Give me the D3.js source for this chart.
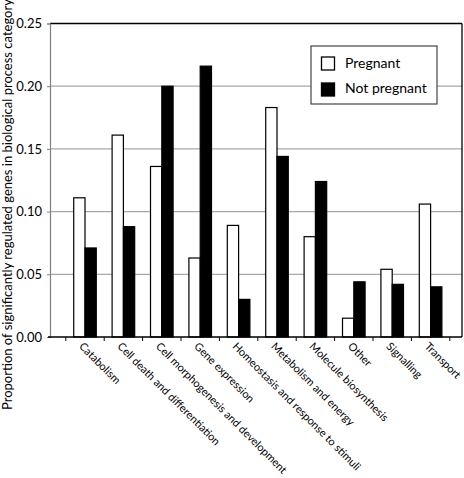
<!DOCTYPE html>
<html><head><meta charset="utf-8">
<script src="https://cdn.jsdelivr.net/npm/d3@7"></script>
<style>
html,body{margin:0;padding:0;background:#fff;}
svg{display:block;}
text{font-family:Lato,"Open Sans",sans-serif;fill:#000;}
</style></head>
<body>
<svg id="chart" width="464" height="478"></svg>
<script>
const categories = ["Catabolism","Cell death and differentiation","Cell morphogenesis and development","Gene expression","Homeostasis and response to stimuli","Metabolism and energy","Molecule biosynthesis","Other","Signalling","Transport"];
const seriesNames = ["Pregnant","Not pregnant"];
const pregnant = [0.111,0.161,0.136,0.063,0.089,0.183,0.080,0.015,0.054,0.106];
const notPregnant = [0.071,0.088,0.200,0.216,0.030,0.144,0.124,0.044,0.042,0.040];
const yTicks = [0,0.05,0.10,0.15,0.20,0.25];
const yLabel = "Proportion of significantly regulated genes in biological process category";

(function(){
const svg = d3.select("#chart");
const mLeft = 50, mRight = 462, mTop = 23.5, mBottom = 337;
const pad = 15.8, padR = 12.2;
const FONT = 'Lato,"Open Sans",sans-serif';

const x0 = d3.scaleBand().domain(categories).range([mLeft+pad, mRight-padR]).padding(0);
const bw = x0.bandwidth();
const x1 = d3.scaleBand().domain(seriesNames).range([bw*0.206, bw*0.794]).padding(0);
const y = d3.scaleLinear().domain([0,0.25]).range([mBottom, mTop]);

svg.append("g").selectAll("line").data(yTicks.filter(t=>t>0 && t<0.25)).join("line")
  .attr("x1", mLeft).attr("x2", mRight).attr("y1", d=>y(d)).attr("y2", d=>y(d))
  .attr("stroke", "#a8a8a8").attr("stroke-width", 1.2);

svg.append("line").attr("x1", mLeft).attr("x2", mRight).attr("y1", y(0.25)).attr("y2", y(0.25))
  .attr("stroke", "#000").attr("stroke-width", 1.3);
svg.append("line").attr("x1", mRight).attr("x2", mRight).attr("y1", y(0.25)).attr("y2", y(0))
  .attr("stroke", "#000").attr("stroke-width", 1.3);

const yAxis = d3.axisLeft(y).tickValues(yTicks).tickFormat(d3.format(".2f")).tickSize(3).tickPadding(5);
const gy = svg.append("g").attr("transform", `translate(${mLeft},0)`).call(yAxis);
gy.select(".domain").attr("stroke", "#808080").attr("stroke-width", 1.2);
gy.selectAll(".tick line").attr("stroke", "#808080");
gy.selectAll(".tick text").attr("font-size", 13).attr("font-family", FONT);

const data = categories.map((c,i)=>({cat:c, vals:[pregnant[i], notPregnant[i]]}));
const groups = svg.append("g").selectAll("g").data(data).join("g")
  .attr("transform", d=>`translate(${x0(d.cat)},0)`);
groups.selectAll("rect").data(d=>d.vals.map((v,j)=>({s:seriesNames[j], v}))).join("rect")
  .attr("x", d=>x1(d.s)).attr("width", x1.bandwidth())
  .attr("y", d=>y(d.v)).attr("height", d=>y(0)-y(d.v))
  .attr("fill", d=>d.s==="Pregnant" ? "#fff" : "#000")
  .attr("stroke", "#000").attr("stroke-width", 1.2);

svg.append("line").attr("x1", mLeft-2).attr("x2", mRight).attr("y1", mBottom).attr("y2", mBottom)
  .attr("stroke", "#000").attr("stroke-width", 1.3);
const bounds = categories.map(c=>x0(c)).concat([x0(categories[categories.length-1])+bw]);
svg.append("g").selectAll("line").data(bounds).join("line")
  .attr("x1", d=>d).attr("x2", d=>d).attr("y1", mBottom).attr("y2", mBottom+4)
  .attr("stroke", "#000").attr("stroke-width", 1);

let fs = 12.5;
const xl = svg.append("g").selectAll("text").data(categories).join("text")
  .attr("transform", d=>`translate(${x0(d)+bw/2-1},${mBottom+4.5}) rotate(45)`)
  .attr("font-size", fs).attr("text-anchor", "start").attr("dy", "0.72em")
  .text(d=>d);
// size the labels so the longest matches the original's length
let refLen = 0;
xl.each(function(d){ if (d === categories[2]) refLen = this.getComputedTextLength(); });
if (refLen > 180) { fs = fs * 180 / refLen; xl.attr("font-size", fs); }

svg.append("text").attr("transform", `translate(12,410) rotate(-90)`)
  .attr("font-size", 13).attr("text-anchor", "start").text(yLabel);

const lg = svg.append("g").attr("transform", "translate(311,46)");
lg.append("rect").attr("width", 126).attr("height", 58).attr("fill", "#fff")
  .attr("stroke", "#444").attr("stroke-width", 1.2);
seriesNames.forEach((s,i)=>{
  lg.append("rect").attr("x", 10.5).attr("y", 11 + i*26).attr("width", 13).attr("height", 13)
    .attr("fill", i===0 ? "#fff" : "#000").attr("stroke", "#000").attr("stroke-width", 1.3);
  lg.append("text").attr("x", 34).attr("y", 22 + i*25).attr("font-size", 14).text(s);
});
})();
</script>
</body></html>
